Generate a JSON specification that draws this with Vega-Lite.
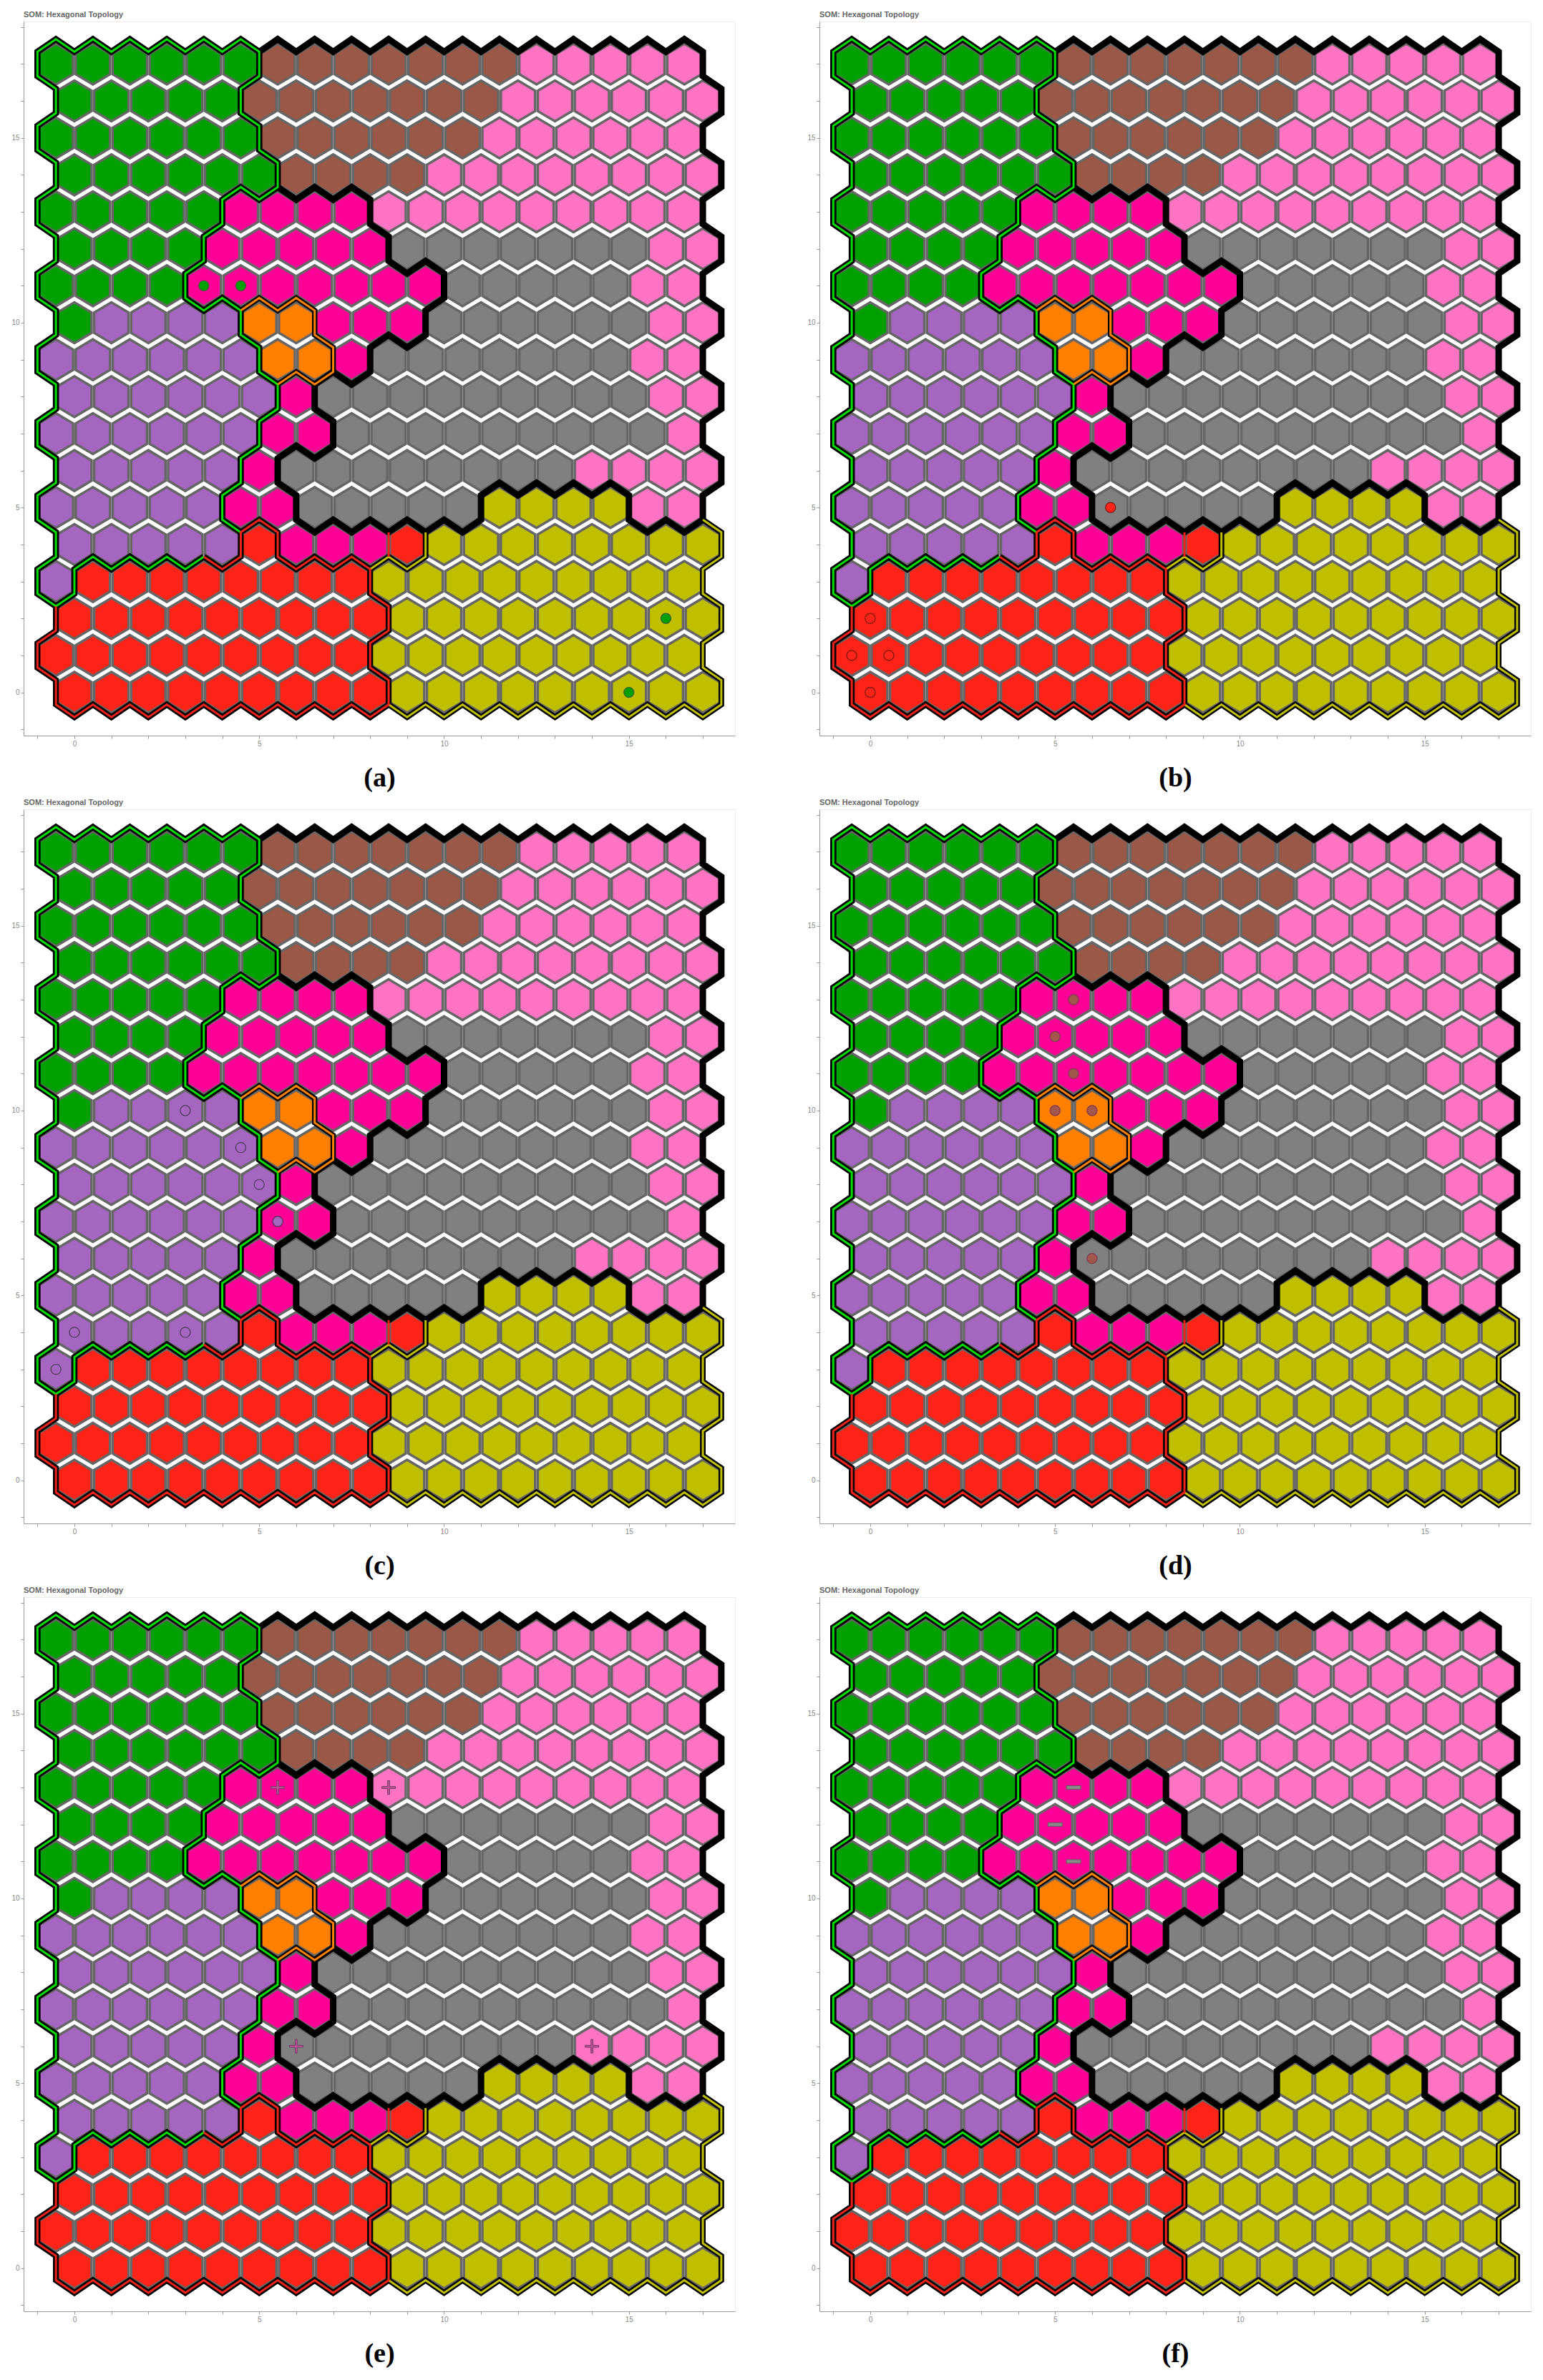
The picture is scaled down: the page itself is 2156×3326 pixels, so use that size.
{"$schema":"https://vega.github.io/schema/vega-lite/v6.json","background":"white","padding":{"left":15,"top":14,"right":0,"bottom":0},"bounds":"flush","columns":2,"spacing":{"row":103,"column":118},
"config":{"view":{"stroke":"#ececec"},"axis":{"grid":false,"domainColor":"#999999","tickColor":"#999999","labelColor":"#888888","labelFontSize":10,"labelFont":"Liberation Sans","tickSize":4,"titleFont":"Liberation Serif","titleFontSize":38,"titleFontWeight":"bold","titleColor":"#000000","titlePadding":24}},
"datasets":{
"cells":[
{"x":-0.5,"y":17,"c":"gn"},{"x":0.5,"y":17,"c":"gn"},{"x":1.5,"y":17,"c":"gn"},{"x":2.5,"y":17,"c":"gn"},{"x":3.5,"y":17,"c":"gn"},{"x":4.5,"y":17,"c":"gn"},{"x":5.5,"y":17,"c":"br"},{"x":6.5,"y":17,"c":"br"},{"x":7.5,"y":17,"c":"br"},{"x":8.5,"y":17,"c":"br"},{"x":9.5,"y":17,"c":"br"},{"x":10.5,"y":17,"c":"br"},{"x":11.5,"y":17,"c":"br"},{"x":12.5,"y":17,"c":"pk"},{"x":13.5,"y":17,"c":"pk"},{"x":14.5,"y":17,"c":"pk"},{"x":15.5,"y":17,"c":"pk"},{"x":16.5,"y":17,"c":"pk"},
{"x":0,"y":16,"c":"gn"},{"x":1,"y":16,"c":"gn"},{"x":2,"y":16,"c":"gn"},{"x":3,"y":16,"c":"gn"},{"x":4,"y":16,"c":"gn"},{"x":5,"y":16,"c":"br"},{"x":6,"y":16,"c":"br"},{"x":7,"y":16,"c":"br"},{"x":8,"y":16,"c":"br"},{"x":9,"y":16,"c":"br"},{"x":10,"y":16,"c":"br"},{"x":11,"y":16,"c":"br"},{"x":12,"y":16,"c":"pk"},{"x":13,"y":16,"c":"pk"},{"x":14,"y":16,"c":"pk"},{"x":15,"y":16,"c":"pk"},{"x":16,"y":16,"c":"pk"},{"x":17,"y":16,"c":"pk"},
{"x":-0.5,"y":15,"c":"gn"},{"x":0.5,"y":15,"c":"gn"},{"x":1.5,"y":15,"c":"gn"},{"x":2.5,"y":15,"c":"gn"},{"x":3.5,"y":15,"c":"gn"},{"x":4.5,"y":15,"c":"gn"},{"x":5.5,"y":15,"c":"br"},{"x":6.5,"y":15,"c":"br"},{"x":7.5,"y":15,"c":"br"},{"x":8.5,"y":15,"c":"br"},{"x":9.5,"y":15,"c":"br"},{"x":10.5,"y":15,"c":"br"},{"x":11.5,"y":15,"c":"pk"},{"x":12.5,"y":15,"c":"pk"},{"x":13.5,"y":15,"c":"pk"},{"x":14.5,"y":15,"c":"pk"},{"x":15.5,"y":15,"c":"pk"},{"x":16.5,"y":15,"c":"pk"},
{"x":0,"y":14,"c":"gn"},{"x":1,"y":14,"c":"gn"},{"x":2,"y":14,"c":"gn"},{"x":3,"y":14,"c":"gn"},{"x":4,"y":14,"c":"gn"},{"x":5,"y":14,"c":"gn"},{"x":6,"y":14,"c":"br"},{"x":7,"y":14,"c":"br"},{"x":8,"y":14,"c":"br"},{"x":9,"y":14,"c":"br"},{"x":10,"y":14,"c":"pk"},{"x":11,"y":14,"c":"pk"},{"x":12,"y":14,"c":"pk"},{"x":13,"y":14,"c":"pk"},{"x":14,"y":14,"c":"pk"},{"x":15,"y":14,"c":"pk"},{"x":16,"y":14,"c":"pk"},{"x":17,"y":14,"c":"pk"},
{"x":-0.5,"y":13,"c":"gn"},{"x":0.5,"y":13,"c":"gn"},{"x":1.5,"y":13,"c":"gn"},{"x":2.5,"y":13,"c":"gn"},{"x":3.5,"y":13,"c":"gn"},{"x":4.5,"y":13,"c":"mg"},{"x":5.5,"y":13,"c":"mg"},{"x":6.5,"y":13,"c":"mg"},{"x":7.5,"y":13,"c":"mg"},{"x":8.5,"y":13,"c":"pk"},{"x":9.5,"y":13,"c":"pk"},{"x":10.5,"y":13,"c":"pk"},{"x":11.5,"y":13,"c":"pk"},{"x":12.5,"y":13,"c":"pk"},{"x":13.5,"y":13,"c":"pk"},{"x":14.5,"y":13,"c":"pk"},{"x":15.5,"y":13,"c":"pk"},{"x":16.5,"y":13,"c":"pk"},
{"x":0,"y":12,"c":"gn"},{"x":1,"y":12,"c":"gn"},{"x":2,"y":12,"c":"gn"},{"x":3,"y":12,"c":"gn"},{"x":4,"y":12,"c":"mg"},{"x":5,"y":12,"c":"mg"},{"x":6,"y":12,"c":"mg"},{"x":7,"y":12,"c":"mg"},{"x":8,"y":12,"c":"mg"},{"x":9,"y":12,"c":"gy"},{"x":10,"y":12,"c":"gy"},{"x":11,"y":12,"c":"gy"},{"x":12,"y":12,"c":"gy"},{"x":13,"y":12,"c":"gy"},{"x":14,"y":12,"c":"gy"},{"x":15,"y":12,"c":"gy"},{"x":16,"y":12,"c":"pk"},{"x":17,"y":12,"c":"pk"},
{"x":-0.5,"y":11,"c":"gn"},{"x":0.5,"y":11,"c":"gn"},{"x":1.5,"y":11,"c":"gn"},{"x":2.5,"y":11,"c":"gn"},{"x":3.5,"y":11,"c":"mg"},{"x":4.5,"y":11,"c":"mg"},{"x":5.5,"y":11,"c":"mg"},{"x":6.5,"y":11,"c":"mg"},{"x":7.5,"y":11,"c":"mg"},{"x":8.5,"y":11,"c":"mg"},{"x":9.5,"y":11,"c":"mg"},{"x":10.5,"y":11,"c":"gy"},{"x":11.5,"y":11,"c":"gy"},{"x":12.5,"y":11,"c":"gy"},{"x":13.5,"y":11,"c":"gy"},{"x":14.5,"y":11,"c":"gy"},{"x":15.5,"y":11,"c":"pk"},{"x":16.5,"y":11,"c":"pk"},
{"x":0,"y":10,"c":"gn"},{"x":1,"y":10,"c":"pu"},{"x":2,"y":10,"c":"pu"},{"x":3,"y":10,"c":"pu"},{"x":4,"y":10,"c":"pu"},{"x":5,"y":10,"c":"or"},{"x":6,"y":10,"c":"or"},{"x":7,"y":10,"c":"mg"},{"x":8,"y":10,"c":"mg"},{"x":9,"y":10,"c":"mg"},{"x":10,"y":10,"c":"gy"},{"x":11,"y":10,"c":"gy"},{"x":12,"y":10,"c":"gy"},{"x":13,"y":10,"c":"gy"},{"x":14,"y":10,"c":"gy"},{"x":15,"y":10,"c":"gy"},{"x":16,"y":10,"c":"pk"},{"x":17,"y":10,"c":"pk"},
{"x":-0.5,"y":9,"c":"pu"},{"x":0.5,"y":9,"c":"pu"},{"x":1.5,"y":9,"c":"pu"},{"x":2.5,"y":9,"c":"pu"},{"x":3.5,"y":9,"c":"pu"},{"x":4.5,"y":9,"c":"pu"},{"x":5.5,"y":9,"c":"or"},{"x":6.5,"y":9,"c":"or"},{"x":7.5,"y":9,"c":"mg"},{"x":8.5,"y":9,"c":"gy"},{"x":9.5,"y":9,"c":"gy"},{"x":10.5,"y":9,"c":"gy"},{"x":11.5,"y":9,"c":"gy"},{"x":12.5,"y":9,"c":"gy"},{"x":13.5,"y":9,"c":"gy"},{"x":14.5,"y":9,"c":"gy"},{"x":15.5,"y":9,"c":"pk"},{"x":16.5,"y":9,"c":"pk"},
{"x":0,"y":8,"c":"pu"},{"x":1,"y":8,"c":"pu"},{"x":2,"y":8,"c":"pu"},{"x":3,"y":8,"c":"pu"},{"x":4,"y":8,"c":"pu"},{"x":5,"y":8,"c":"pu"},{"x":6,"y":8,"c":"mg"},{"x":7,"y":8,"c":"gy"},{"x":8,"y":8,"c":"gy"},{"x":9,"y":8,"c":"gy"},{"x":10,"y":8,"c":"gy"},{"x":11,"y":8,"c":"gy"},{"x":12,"y":8,"c":"gy"},{"x":13,"y":8,"c":"gy"},{"x":14,"y":8,"c":"gy"},{"x":15,"y":8,"c":"gy"},{"x":16,"y":8,"c":"pk"},{"x":17,"y":8,"c":"pk"},
{"x":-0.5,"y":7,"c":"pu"},{"x":0.5,"y":7,"c":"pu"},{"x":1.5,"y":7,"c":"pu"},{"x":2.5,"y":7,"c":"pu"},{"x":3.5,"y":7,"c":"pu"},{"x":4.5,"y":7,"c":"pu"},{"x":5.5,"y":7,"c":"mg"},{"x":6.5,"y":7,"c":"mg"},{"x":7.5,"y":7,"c":"gy"},{"x":8.5,"y":7,"c":"gy"},{"x":9.5,"y":7,"c":"gy"},{"x":10.5,"y":7,"c":"gy"},{"x":11.5,"y":7,"c":"gy"},{"x":12.5,"y":7,"c":"gy"},{"x":13.5,"y":7,"c":"gy"},{"x":14.5,"y":7,"c":"gy"},{"x":15.5,"y":7,"c":"gy"},{"x":16.5,"y":7,"c":"pk"},
{"x":0,"y":6,"c":"pu"},{"x":1,"y":6,"c":"pu"},{"x":2,"y":6,"c":"pu"},{"x":3,"y":6,"c":"pu"},{"x":4,"y":6,"c":"pu"},{"x":5,"y":6,"c":"mg"},{"x":6,"y":6,"c":"gy"},{"x":7,"y":6,"c":"gy"},{"x":8,"y":6,"c":"gy"},{"x":9,"y":6,"c":"gy"},{"x":10,"y":6,"c":"gy"},{"x":11,"y":6,"c":"gy"},{"x":12,"y":6,"c":"gy"},{"x":13,"y":6,"c":"gy"},{"x":14,"y":6,"c":"pk"},{"x":15,"y":6,"c":"pk"},{"x":16,"y":6,"c":"pk"},{"x":17,"y":6,"c":"pk"},
{"x":-0.5,"y":5,"c":"pu"},{"x":0.5,"y":5,"c":"pu"},{"x":1.5,"y":5,"c":"pu"},{"x":2.5,"y":5,"c":"pu"},{"x":3.5,"y":5,"c":"pu"},{"x":4.5,"y":5,"c":"mg"},{"x":5.5,"y":5,"c":"mg"},{"x":6.5,"y":5,"c":"gy"},{"x":7.5,"y":5,"c":"gy"},{"x":8.5,"y":5,"c":"gy"},{"x":9.5,"y":5,"c":"gy"},{"x":10.5,"y":5,"c":"gy"},{"x":11.5,"y":5,"c":"ol"},{"x":12.5,"y":5,"c":"ol"},{"x":13.5,"y":5,"c":"ol"},{"x":14.5,"y":5,"c":"ol"},{"x":15.5,"y":5,"c":"pk"},{"x":16.5,"y":5,"c":"pk"},
{"x":0,"y":4,"c":"pu"},{"x":1,"y":4,"c":"pu"},{"x":2,"y":4,"c":"pu"},{"x":3,"y":4,"c":"pu"},{"x":4,"y":4,"c":"pu"},{"x":5,"y":4,"c":"rd"},{"x":6,"y":4,"c":"mg"},{"x":7,"y":4,"c":"mg"},{"x":8,"y":4,"c":"mg"},{"x":9,"y":4,"c":"rd"},{"x":10,"y":4,"c":"ol"},{"x":11,"y":4,"c":"ol"},{"x":12,"y":4,"c":"ol"},{"x":13,"y":4,"c":"ol"},{"x":14,"y":4,"c":"ol"},{"x":15,"y":4,"c":"ol"},{"x":16,"y":4,"c":"ol"},{"x":17,"y":4,"c":"ol"},
{"x":-0.5,"y":3,"c":"pu"},{"x":0.5,"y":3,"c":"rd"},{"x":1.5,"y":3,"c":"rd"},{"x":2.5,"y":3,"c":"rd"},{"x":3.5,"y":3,"c":"rd"},{"x":4.5,"y":3,"c":"rd"},{"x":5.5,"y":3,"c":"rd"},{"x":6.5,"y":3,"c":"rd"},{"x":7.5,"y":3,"c":"rd"},{"x":8.5,"y":3,"c":"ol"},{"x":9.5,"y":3,"c":"ol"},{"x":10.5,"y":3,"c":"ol"},{"x":11.5,"y":3,"c":"ol"},{"x":12.5,"y":3,"c":"ol"},{"x":13.5,"y":3,"c":"ol"},{"x":14.5,"y":3,"c":"ol"},{"x":15.5,"y":3,"c":"ol"},{"x":16.5,"y":3,"c":"ol"},
{"x":0,"y":2,"c":"rd"},{"x":1,"y":2,"c":"rd"},{"x":2,"y":2,"c":"rd"},{"x":3,"y":2,"c":"rd"},{"x":4,"y":2,"c":"rd"},{"x":5,"y":2,"c":"rd"},{"x":6,"y":2,"c":"rd"},{"x":7,"y":2,"c":"rd"},{"x":8,"y":2,"c":"rd"},{"x":9,"y":2,"c":"ol"},{"x":10,"y":2,"c":"ol"},{"x":11,"y":2,"c":"ol"},{"x":12,"y":2,"c":"ol"},{"x":13,"y":2,"c":"ol"},{"x":14,"y":2,"c":"ol"},{"x":15,"y":2,"c":"ol"},{"x":16,"y":2,"c":"ol"},{"x":17,"y":2,"c":"ol"},
{"x":-0.5,"y":1,"c":"rd"},{"x":0.5,"y":1,"c":"rd"},{"x":1.5,"y":1,"c":"rd"},{"x":2.5,"y":1,"c":"rd"},{"x":3.5,"y":1,"c":"rd"},{"x":4.5,"y":1,"c":"rd"},{"x":5.5,"y":1,"c":"rd"},{"x":6.5,"y":1,"c":"rd"},{"x":7.5,"y":1,"c":"rd"},{"x":8.5,"y":1,"c":"ol"},{"x":9.5,"y":1,"c":"ol"},{"x":10.5,"y":1,"c":"ol"},{"x":11.5,"y":1,"c":"ol"},{"x":12.5,"y":1,"c":"ol"},{"x":13.5,"y":1,"c":"ol"},{"x":14.5,"y":1,"c":"ol"},{"x":15.5,"y":1,"c":"ol"},{"x":16.5,"y":1,"c":"ol"},
{"x":0,"y":0,"c":"rd"},{"x":1,"y":0,"c":"rd"},{"x":2,"y":0,"c":"rd"},{"x":3,"y":0,"c":"rd"},{"x":4,"y":0,"c":"rd"},{"x":5,"y":0,"c":"rd"},{"x":6,"y":0,"c":"rd"},{"x":7,"y":0,"c":"rd"},{"x":8,"y":0,"c":"rd"},{"x":9,"y":0,"c":"ol"},{"x":10,"y":0,"c":"ol"},{"x":11,"y":0,"c":"ol"},{"x":12,"y":0,"c":"ol"},{"x":13,"y":0,"c":"ol"},{"x":14,"y":0,"c":"ol"},{"x":15,"y":0,"c":"ol"},{"x":16,"y":0,"c":"ol"},{"x":17,"y":0,"c":"ol"}
],
"lines":[
{"p":"g","c":"g","o":1,"x":4.5,"y":4.33},{"p":"g","c":"g","o":2,"x":4,"y":4.67},{"p":"g","c":"g","o":3,"x":4,"y":5.33},{"p":"g","c":"g","o":4,"x":4.5,"y":5.67},{"p":"g","c":"g","o":5,"x":4.5,"y":6.33},{"p":"g","c":"g","o":6,"x":5,"y":6.67},{"p":"g","c":"g","o":7,"x":5,"y":7.33},{"p":"g","c":"g","o":8,"x":5.5,"y":7.67},{"p":"g","c":"g","o":9,"x":5.5,"y":8.33},{"p":"g","c":"g","o":10,"x":5,"y":8.67},{"p":"g","c":"g","o":11,"x":5,"y":9.33},{"p":"g","c":"g","o":12,"x":4.5,"y":9.67},{"p":"g","c":"g","o":13,"x":4.5,"y":10.33},{"p":"g","c":"g","o":14,"x":4,"y":10.67},{"p":"g","c":"g","o":15,"x":3.5,"y":10.33},{"p":"g","c":"g","o":16,"x":3,"y":10.67},{"p":"g","c":"g","o":17,"x":3,"y":11.33},{"p":"g","c":"g","o":18,"x":3.5,"y":11.67},{"p":"g","c":"g","o":19,"x":3.5,"y":12.33},{"p":"g","c":"g","o":20,"x":4,"y":12.67},{"p":"g","c":"g","o":21,"x":4,"y":13.33},{"p":"g","c":"g","o":22,"x":4.5,"y":13.67},{"p":"g","c":"g","o":23,"x":5,"y":13.33},{"p":"g","c":"g","o":24,"x":5.5,"y":13.67},{"p":"g","c":"g","o":25,"x":5.5,"y":14.33},{"p":"g","c":"g","o":26,"x":5,"y":14.67},{"p":"g","c":"g","o":27,"x":5,"y":15.33},{"p":"g","c":"g","o":28,"x":4.5,"y":15.67},{"p":"g","c":"g","o":29,"x":4.5,"y":16.33},{"p":"g","c":"g","o":30,"x":5,"y":16.67},{"p":"g","c":"g","o":31,"x":5,"y":17.33},{"p":"g","c":"g","o":32,"x":4.5,"y":17.67},{"p":"g","c":"g","o":33,"x":4,"y":17.33},{"p":"g","c":"g","o":34,"x":3.5,"y":17.67},{"p":"g","c":"g","o":35,"x":3,"y":17.33},{"p":"g","c":"g","o":36,"x":2.5,"y":17.67},{"p":"g","c":"g","o":37,"x":2,"y":17.33},{"p":"g","c":"g","o":38,"x":1.5,"y":17.67},{"p":"g","c":"g","o":39,"x":1,"y":17.33},{"p":"g","c":"g","o":40,"x":0.5,"y":17.67},{"p":"g","c":"g","o":41,"x":0,"y":17.33},{"p":"g","c":"g","o":42,"x":-0.5,"y":17.67},{"p":"g","c":"g","o":43,"x":-1,"y":17.33},{"p":"g","c":"g","o":44,"x":-1,"y":16.67},{"p":"g","c":"g","o":45,"x":-0.5,"y":16.33},{"p":"g","c":"g","o":46,"x":-0.5,"y":15.67},{"p":"g","c":"g","o":47,"x":-1,"y":15.33},{"p":"g","c":"g","o":48,"x":-1,"y":14.67},{"p":"g","c":"g","o":49,"x":-0.5,"y":14.33},{"p":"g","c":"g","o":50,"x":-0.5,"y":13.67},{"p":"g","c":"g","o":51,"x":-1,"y":13.33},{"p":"g","c":"g","o":52,"x":-1,"y":12.67},{"p":"g","c":"g","o":53,"x":-0.5,"y":12.33},{"p":"g","c":"g","o":54,"x":-0.5,"y":11.67},{"p":"g","c":"g","o":55,"x":-1,"y":11.33},{"p":"g","c":"g","o":56,"x":-1,"y":10.67},{"p":"g","c":"g","o":57,"x":-0.5,"y":10.33},{"p":"g","c":"g","o":58,"x":-0.5,"y":9.67},{"p":"g","c":"g","o":59,"x":-1,"y":9.33},{"p":"g","c":"g","o":60,"x":-1,"y":8.67},{"p":"g","c":"g","o":61,"x":-0.5,"y":8.33},{"p":"g","c":"g","o":62,"x":-0.5,"y":7.67},{"p":"g","c":"g","o":63,"x":-1,"y":7.33},{"p":"g","c":"g","o":64,"x":-1,"y":6.67},{"p":"g","c":"g","o":65,"x":-0.5,"y":6.33},{"p":"g","c":"g","o":66,"x":-0.5,"y":5.67},{"p":"g","c":"g","o":67,"x":-1,"y":5.33},{"p":"g","c":"g","o":68,"x":-1,"y":4.67},{"p":"g","c":"g","o":69,"x":-0.5,"y":4.33},{"p":"g","c":"g","o":70,"x":-0.5,"y":3.67},{"p":"g","c":"g","o":71,"x":-1,"y":3.33},{"p":"g","c":"g","o":72,"x":-1,"y":2.67},{"p":"g","c":"g","o":73,"x":-0.5,"y":2.33},{"p":"g","c":"g","o":74,"x":0,"y":2.67},{"p":"g","c":"g","o":75,"x":0,"y":3.33},{"p":"g","c":"g","o":76,"x":0.5,"y":3.67},{"p":"g","c":"g","o":77,"x":1,"y":3.33},{"p":"g","c":"g","o":78,"x":1.5,"y":3.67},{"p":"g","c":"g","o":79,"x":2,"y":3.33},{"p":"g","c":"g","o":80,"x":2.5,"y":3.67},{"p":"g","c":"g","o":81,"x":3,"y":3.33},{"p":"g","c":"g","o":82,"x":3.5,"y":3.67},
{"p":"k","c":"k","o":1,"x":5,"y":17.33},{"p":"k","c":"k","o":2,"x":5.5,"y":17.67},{"p":"k","c":"k","o":3,"x":6,"y":17.33},{"p":"k","c":"k","o":4,"x":6.5,"y":17.67},{"p":"k","c":"k","o":5,"x":7,"y":17.33},{"p":"k","c":"k","o":6,"x":7.5,"y":17.67},{"p":"k","c":"k","o":7,"x":8,"y":17.33},{"p":"k","c":"k","o":8,"x":8.5,"y":17.67},{"p":"k","c":"k","o":9,"x":9,"y":17.33},{"p":"k","c":"k","o":10,"x":9.5,"y":17.67},{"p":"k","c":"k","o":11,"x":10,"y":17.33},{"p":"k","c":"k","o":12,"x":10.5,"y":17.67},{"p":"k","c":"k","o":13,"x":11,"y":17.33},{"p":"k","c":"k","o":14,"x":11.5,"y":17.67},{"p":"k","c":"k","o":15,"x":12,"y":17.33},{"p":"k","c":"k","o":16,"x":12.5,"y":17.67},{"p":"k","c":"k","o":17,"x":13,"y":17.33},{"p":"k","c":"k","o":18,"x":13.5,"y":17.67},{"p":"k","c":"k","o":19,"x":14,"y":17.33},{"p":"k","c":"k","o":20,"x":14.5,"y":17.67},{"p":"k","c":"k","o":21,"x":15,"y":17.33},{"p":"k","c":"k","o":22,"x":15.5,"y":17.67},{"p":"k","c":"k","o":23,"x":16,"y":17.33},{"p":"k","c":"k","o":24,"x":16.5,"y":17.67},{"p":"k","c":"k","o":25,"x":17,"y":17.33},{"p":"k","c":"k","o":26,"x":17,"y":16.67},{"p":"k","c":"k","o":27,"x":17.5,"y":16.33},{"p":"k","c":"k","o":28,"x":17.5,"y":15.67},{"p":"k","c":"k","o":29,"x":17,"y":15.33},{"p":"k","c":"k","o":30,"x":17,"y":14.67},{"p":"k","c":"k","o":31,"x":17.5,"y":14.33},{"p":"k","c":"k","o":32,"x":17.5,"y":13.67},{"p":"k","c":"k","o":33,"x":17,"y":13.33},{"p":"k","c":"k","o":34,"x":17,"y":12.67},{"p":"k","c":"k","o":35,"x":17.5,"y":12.33},{"p":"k","c":"k","o":36,"x":17.5,"y":11.67},{"p":"k","c":"k","o":37,"x":17,"y":11.33},{"p":"k","c":"k","o":38,"x":17,"y":10.67},{"p":"k","c":"k","o":39,"x":17.5,"y":10.33},{"p":"k","c":"k","o":40,"x":17.5,"y":9.67},{"p":"k","c":"k","o":41,"x":17,"y":9.33},{"p":"k","c":"k","o":42,"x":17,"y":8.67},{"p":"k","c":"k","o":43,"x":17.5,"y":8.33},{"p":"k","c":"k","o":44,"x":17.5,"y":7.67},{"p":"k","c":"k","o":45,"x":17,"y":7.33},{"p":"k","c":"k","o":46,"x":17,"y":6.67},{"p":"k","c":"k","o":47,"x":17.5,"y":6.33},{"p":"k","c":"k","o":48,"x":17.5,"y":5.67},{"p":"k","c":"k","o":49,"x":17,"y":5.33},{"p":"k","c":"k","o":50,"x":17,"y":4.67},{"p":"k","c":"k","o":51,"x":16.5,"y":4.33},{"p":"k","c":"k","o":52,"x":16,"y":4.67},{"p":"k","c":"k","o":53,"x":15.5,"y":4.33},{"p":"k","c":"k","o":54,"x":15,"y":4.67},{"p":"k","c":"k","o":55,"x":15,"y":5.33},{"p":"k","c":"k","o":56,"x":14.5,"y":5.67},{"p":"k","c":"k","o":57,"x":14,"y":5.33},{"p":"k","c":"k","o":58,"x":13.5,"y":5.67},{"p":"k","c":"k","o":59,"x":13,"y":5.33},{"p":"k","c":"k","o":60,"x":12.5,"y":5.67},{"p":"k","c":"k","o":61,"x":12,"y":5.33},{"p":"k","c":"k","o":62,"x":11.5,"y":5.67},{"p":"k","c":"k","o":63,"x":11,"y":5.33},{"p":"k","c":"k","o":64,"x":11,"y":4.67},{"p":"k","c":"k","o":65,"x":10.5,"y":4.33},{"p":"k","c":"k","o":66,"x":10,"y":4.67},{"p":"k","c":"k","o":67,"x":9.5,"y":4.33},{"p":"k","c":"k","o":68,"x":9,"y":4.67},{"p":"k","c":"k","o":69,"x":8.5,"y":4.33},{"p":"k","c":"k","o":70,"x":8,"y":4.67},{"p":"k","c":"k","o":71,"x":7.5,"y":4.33},{"p":"k","c":"k","o":72,"x":7,"y":4.67},{"p":"k","c":"k","o":73,"x":6.5,"y":4.33},{"p":"k","c":"k","o":74,"x":6,"y":4.67},{"p":"k","c":"k","o":75,"x":6,"y":5.33},{"p":"k","c":"k","o":76,"x":5.5,"y":5.67},{"p":"k","c":"k","o":77,"x":5.5,"y":6.33},{"p":"k","c":"k","o":78,"x":6,"y":6.67},{"p":"k","c":"k","o":79,"x":6.5,"y":6.33},{"p":"k","c":"k","o":80,"x":7,"y":6.67},{"p":"k","c":"k","o":81,"x":7,"y":7.33},{"p":"k","c":"k","o":82,"x":6.5,"y":7.67},{"p":"k","c":"k","o":83,"x":6.5,"y":8.33},{"p":"k","c":"k","o":84,"x":7,"y":8.67},{"p":"k","c":"k","o":85,"x":7.5,"y":8.33},{"p":"k","c":"k","o":86,"x":8,"y":8.67},{"p":"k","c":"k","o":87,"x":8,"y":9.33},{"p":"k","c":"k","o":88,"x":8.5,"y":9.67},{"p":"k","c":"k","o":89,"x":9,"y":9.33},{"p":"k","c":"k","o":90,"x":9.5,"y":9.67},{"p":"k","c":"k","o":91,"x":9.5,"y":10.33},{"p":"k","c":"k","o":92,"x":10,"y":10.67},{"p":"k","c":"k","o":93,"x":10,"y":11.33},{"p":"k","c":"k","o":94,"x":9.5,"y":11.67},{"p":"k","c":"k","o":95,"x":9,"y":11.33},{"p":"k","c":"k","o":96,"x":8.5,"y":11.67},{"p":"k","c":"k","o":97,"x":8.5,"y":12.33},{"p":"k","c":"k","o":98,"x":8,"y":12.67},{"p":"k","c":"k","o":99,"x":8,"y":13.33},{"p":"k","c":"k","o":100,"x":7.5,"y":13.67},{"p":"k","c":"k","o":101,"x":7,"y":13.33},{"p":"k","c":"k","o":102,"x":6.5,"y":13.67},{"p":"k","c":"k","o":103,"x":6,"y":13.33},{"p":"k","c":"k","o":104,"x":5.5,"y":13.67},
{"p":"y1","c":"y","o":1,"x":17,"y":4.67},{"p":"y1","c":"y","o":2,"x":17.5,"y":4.33},{"p":"y1","c":"y","o":3,"x":17.5,"y":3.67},{"p":"y1","c":"y","o":4,"x":17,"y":3.33},{"p":"y1","c":"y","o":5,"x":17,"y":2.67},{"p":"y1","c":"y","o":6,"x":17.5,"y":2.33},{"p":"y1","c":"y","o":7,"x":17.5,"y":1.67},{"p":"y1","c":"y","o":8,"x":17,"y":1.33},{"p":"y1","c":"y","o":9,"x":17,"y":0.67},{"p":"y1","c":"y","o":10,"x":17.5,"y":0.33},{"p":"y1","c":"y","o":11,"x":17.5,"y":-0.33},{"p":"y1","c":"y","o":12,"x":17,"y":-0.67},{"p":"y1","c":"y","o":13,"x":16.5,"y":-0.33},{"p":"y1","c":"y","o":14,"x":16,"y":-0.67},{"p":"y1","c":"y","o":15,"x":15.5,"y":-0.33},{"p":"y1","c":"y","o":16,"x":15,"y":-0.67},{"p":"y1","c":"y","o":17,"x":14.5,"y":-0.33},{"p":"y1","c":"y","o":18,"x":14,"y":-0.67},{"p":"y1","c":"y","o":19,"x":13.5,"y":-0.33},{"p":"y1","c":"y","o":20,"x":13,"y":-0.67},{"p":"y1","c":"y","o":21,"x":12.5,"y":-0.33},{"p":"y1","c":"y","o":22,"x":12,"y":-0.67},{"p":"y1","c":"y","o":23,"x":11.5,"y":-0.33},{"p":"y1","c":"y","o":24,"x":11,"y":-0.67},{"p":"y1","c":"y","o":25,"x":10.5,"y":-0.33},{"p":"y1","c":"y","o":26,"x":10,"y":-0.67},{"p":"y1","c":"y","o":27,"x":9.5,"y":-0.33},{"p":"y1","c":"y","o":28,"x":9,"y":-0.67},{"p":"y1","c":"y","o":29,"x":8.5,"y":-0.33},
{"p":"y2","c":"y","o":1,"x":8,"y":3.33},{"p":"y2","c":"y","o":2,"x":8.5,"y":3.67},{"p":"y2","c":"y","o":3,"x":9,"y":3.33},{"p":"y2","c":"y","o":4,"x":9.5,"y":3.67},{"p":"y2","c":"y","o":5,"x":9.5,"y":4.33},
{"p":"r1","c":"r","o":1,"x":-0.5,"y":2.33},{"p":"r1","c":"r","o":2,"x":-0.5,"y":1.67},{"p":"r1","c":"r","o":3,"x":-1,"y":1.33},{"p":"r1","c":"r","o":4,"x":-1,"y":0.67},{"p":"r1","c":"r","o":5,"x":-0.5,"y":0.33},{"p":"r1","c":"r","o":6,"x":-0.5,"y":-0.33},{"p":"r1","c":"r","o":7,"x":0,"y":-0.67},{"p":"r1","c":"r","o":8,"x":0.5,"y":-0.33},{"p":"r1","c":"r","o":9,"x":1,"y":-0.67},{"p":"r1","c":"r","o":10,"x":1.5,"y":-0.33},{"p":"r1","c":"r","o":11,"x":2,"y":-0.67},{"p":"r1","c":"r","o":12,"x":2.5,"y":-0.33},{"p":"r1","c":"r","o":13,"x":3,"y":-0.67},{"p":"r1","c":"r","o":14,"x":3.5,"y":-0.33},{"p":"r1","c":"r","o":15,"x":4,"y":-0.67},{"p":"r1","c":"r","o":16,"x":4.5,"y":-0.33},{"p":"r1","c":"r","o":17,"x":5,"y":-0.67},{"p":"r1","c":"r","o":18,"x":5.5,"y":-0.33},{"p":"r1","c":"r","o":19,"x":6,"y":-0.67},{"p":"r1","c":"r","o":20,"x":6.5,"y":-0.33},{"p":"r1","c":"r","o":21,"x":7,"y":-0.67},{"p":"r1","c":"r","o":22,"x":7.5,"y":-0.33},{"p":"r1","c":"r","o":23,"x":8,"y":-0.67},{"p":"r1","c":"r","o":24,"x":8.5,"y":-0.33},{"p":"r1","c":"r","o":25,"x":8.5,"y":0.33},{"p":"r1","c":"r","o":26,"x":8,"y":0.67},{"p":"r1","c":"r","o":27,"x":8,"y":1.33},{"p":"r1","c":"r","o":28,"x":8.5,"y":1.67},{"p":"r1","c":"r","o":29,"x":8.5,"y":2.33},{"p":"r1","c":"r","o":30,"x":8,"y":2.67},{"p":"r1","c":"r","o":31,"x":8,"y":3.33},{"p":"r1","c":"r","o":32,"x":7.5,"y":3.67},{"p":"r1","c":"r","o":33,"x":7,"y":3.33},{"p":"r1","c":"r","o":34,"x":6.5,"y":3.67},{"p":"r1","c":"r","o":35,"x":6,"y":3.33},{"p":"r1","c":"r","o":36,"x":5.5,"y":3.67},{"p":"r1","c":"r","o":37,"x":5.5,"y":4.33},{"p":"r1","c":"r","o":38,"x":5,"y":4.67},{"p":"r1","c":"r","o":39,"x":4.5,"y":4.33},{"p":"r1","c":"r","o":40,"x":4.5,"y":3.67},{"p":"r1","c":"r","o":41,"x":4,"y":3.33},{"p":"r1","c":"r","o":42,"x":3.5,"y":3.67},
{"p":"r2","c":"t","o":1,"x":8.5,"y":3.67},{"p":"r2","c":"t","o":2,"x":8.5,"y":4.33},
{"p":"o","c":"o","o":1,"x":4.5,"y":10.33},{"p":"o","c":"o","o":2,"x":5,"y":10.67},{"p":"o","c":"o","o":3,"x":5.5,"y":10.33},{"p":"o","c":"o","o":4,"x":6,"y":10.67},{"p":"o","c":"o","o":5,"x":6.5,"y":10.33},{"p":"o","c":"o","o":6,"x":6.5,"y":9.67},{"p":"o","c":"o","o":7,"x":7,"y":9.33},{"p":"o","c":"o","o":8,"x":7,"y":8.67},{"p":"o","c":"o","o":9,"x":6.5,"y":8.33},{"p":"o","c":"o","o":10,"x":6,"y":8.67},{"p":"o","c":"o","o":11,"x":5.5,"y":8.33}
],
"markers":[
{"panel":"a","x":3.5,"y":11},{"panel":"a","x":4.5,"y":11},{"panel":"a","x":16,"y":2},{"panel":"a","x":15,"y":0},
{"panel":"b","x":6.5,"y":5},{"panel":"b","x":0,"y":2},{"panel":"b","x":-0.5,"y":1},{"panel":"b","x":0.5,"y":1},{"panel":"b","x":0,"y":0},
{"panel":"c","x":3,"y":10},{"panel":"c","x":4.5,"y":9},{"panel":"c","x":5,"y":8},{"panel":"c","x":5.5,"y":7},{"panel":"c","x":0,"y":4},{"panel":"c","x":3,"y":4},{"panel":"c","x":-0.5,"y":3},
{"panel":"d","x":5.5,"y":13},{"panel":"d","x":5,"y":12},{"panel":"d","x":5.5,"y":11},{"panel":"d","x":5,"y":10},{"panel":"d","x":6,"y":10},{"panel":"d","x":6,"y":6},
{"panel":"e","x":5.5,"y":13},{"panel":"e","x":8.5,"y":13},{"panel":"e","x":6,"y":6},{"panel":"e","x":14,"y":6},
{"panel":"f","x":5.5,"y":13},{"panel":"f","x":5,"y":12},{"panel":"f","x":5.5,"y":11}
]},
"concat":[
{"title":{"text":"SOM: Hexagonal Topology","anchor":"start","frame":"group","fontSize":11,"font":"Liberation Sans","fontWeight":"bold","color":"#666666","offset":4},"width":994,"height":998,
"encoding":{"x":{"field":"x","type":"quantitative","scale":{"domain":[-1.374,17.87],"nice":false,"zero":false},"axis":{"title":"(a)","values":[-1,0,1,2,3,4,5,6,7,8,9,10,11,12,13,14,15,16,17],"labelExpr":"datum.value % 5 === 0 ? datum.label : ''"}},"y":{"field":"y","type":"quantitative","scale":{"domain":[-1.17,18.15],"nice":false,"zero":false},"axis":{"title":null,"values":[-1,0,1,2,3,4,5,6,7,8,9,10,11,12,13,14,15,16,17,18],"labelExpr":"datum.value % 5 === 0 ? datum.label : ''"}}},
"layer":[
{"data":{"name":"cells"},"mark":{"type":"point","shape":"M0,-1L0.842,-0.5L0.842,0.5L0,1L-0.842,0.5L-0.842,-0.5Z","filled":true,"opacity":1,"stroke":"#666666","strokeWidth":3.5,"size":3249},"encoding":{"fill":{"field":"c","type":"nominal","legend":null,"scale":{"domain":["gn","br","pk","mg","gy","pu","or","rd","ol"],"range":["#00a000","#9c5846","#ff73c3","#ff0096","#808080","#a566c2","#ff8000","#ff2318","#bfbf00"]}}}},
{"data":{"name":"lines"},"transform":[{"filter":"datum.c !== 't'"}],"mark":{"type":"line","color":"#000000"},"encoding":{"detail":{"field":"p"},"order":{"field":"o","type":"quantitative"},"strokeWidth":{"field":"c","type":"nominal","legend":null,"scale":{"domain":["k","g","r","y","o"],"range":[9,7.5,7,8,5]}}}},
{"data":{"name":"lines"},"transform":[{"filter":"datum.c !== 'k'"}],"mark":{"type":"line","strokeWidth":3},"encoding":{"detail":{"field":"p"},"order":{"field":"o","type":"quantitative"},"stroke":{"field":"c","type":"nominal","legend":null,"scale":{"domain":["g","r","t","y","o"],"range":["#00dd00","#f0201a","#f0201a","#bfbf00","#ff8000"]}}}},
{"data":{"name":"markers"},"transform":[{"filter":"datum.panel === 'a'"}],"mark":{"type":"point","shape":"circle","filled":true,"opacity":1,"fill":"#00a000","stroke":"#3d5a3d","strokeWidth":1.2,"size":200}}
]},
{"title":{"text":"SOM: Hexagonal Topology","anchor":"start","frame":"group","fontSize":11,"font":"Liberation Sans","fontWeight":"bold","color":"#666666","offset":4},"width":994,"height":998,
"encoding":{"x":{"field":"x","type":"quantitative","scale":{"domain":[-1.374,17.87],"nice":false,"zero":false},"axis":{"title":"(b)","values":[-1,0,1,2,3,4,5,6,7,8,9,10,11,12,13,14,15,16,17],"labelExpr":"datum.value % 5 === 0 ? datum.label : ''"}},"y":{"field":"y","type":"quantitative","scale":{"domain":[-1.17,18.15],"nice":false,"zero":false},"axis":{"title":null,"values":[-1,0,1,2,3,4,5,6,7,8,9,10,11,12,13,14,15,16,17,18],"labelExpr":"datum.value % 5 === 0 ? datum.label : ''"}}},
"layer":[
{"data":{"name":"cells"},"mark":{"type":"point","shape":"M0,-1L0.842,-0.5L0.842,0.5L0,1L-0.842,0.5L-0.842,-0.5Z","filled":true,"opacity":1,"stroke":"#666666","strokeWidth":3.5,"size":3249},"encoding":{"fill":{"field":"c","type":"nominal","legend":null,"scale":{"domain":["gn","br","pk","mg","gy","pu","or","rd","ol"],"range":["#00a000","#9c5846","#ff73c3","#ff0096","#808080","#a566c2","#ff8000","#ff2318","#bfbf00"]}}}},
{"data":{"name":"lines"},"transform":[{"filter":"datum.c !== 't'"}],"mark":{"type":"line","color":"#000000"},"encoding":{"detail":{"field":"p"},"order":{"field":"o","type":"quantitative"},"strokeWidth":{"field":"c","type":"nominal","legend":null,"scale":{"domain":["k","g","r","y","o"],"range":[9,7.5,7,8,5]}}}},
{"data":{"name":"lines"},"transform":[{"filter":"datum.c !== 'k'"}],"mark":{"type":"line","strokeWidth":3},"encoding":{"detail":{"field":"p"},"order":{"field":"o","type":"quantitative"},"stroke":{"field":"c","type":"nominal","legend":null,"scale":{"domain":["g","r","t","y","o"],"range":["#00dd00","#f0201a","#f0201a","#bfbf00","#ff8000"]}}}},
{"data":{"name":"markers"},"transform":[{"filter":"datum.panel === 'b'"}],"mark":{"type":"point","shape":"circle","filled":true,"opacity":1,"fill":"#ff2318","stroke":"#7a1a15","strokeWidth":1.3,"size":200}}
]},
{"title":{"text":"SOM: Hexagonal Topology","anchor":"start","frame":"group","fontSize":11,"font":"Liberation Sans","fontWeight":"bold","color":"#666666","offset":4},"width":994,"height":998,
"encoding":{"x":{"field":"x","type":"quantitative","scale":{"domain":[-1.374,17.87],"nice":false,"zero":false},"axis":{"title":"(c)","values":[-1,0,1,2,3,4,5,6,7,8,9,10,11,12,13,14,15,16,17],"labelExpr":"datum.value % 5 === 0 ? datum.label : ''"}},"y":{"field":"y","type":"quantitative","scale":{"domain":[-1.17,18.15],"nice":false,"zero":false},"axis":{"title":null,"values":[-1,0,1,2,3,4,5,6,7,8,9,10,11,12,13,14,15,16,17,18],"labelExpr":"datum.value % 5 === 0 ? datum.label : ''"}}},
"layer":[
{"data":{"name":"cells"},"mark":{"type":"point","shape":"M0,-1L0.842,-0.5L0.842,0.5L0,1L-0.842,0.5L-0.842,-0.5Z","filled":true,"opacity":1,"stroke":"#666666","strokeWidth":3.5,"size":3249},"encoding":{"fill":{"field":"c","type":"nominal","legend":null,"scale":{"domain":["gn","br","pk","mg","gy","pu","or","rd","ol"],"range":["#00a000","#9c5846","#ff73c3","#ff0096","#808080","#a566c2","#ff8000","#ff2318","#bfbf00"]}}}},
{"data":{"name":"lines"},"transform":[{"filter":"datum.c !== 't'"}],"mark":{"type":"line","color":"#000000"},"encoding":{"detail":{"field":"p"},"order":{"field":"o","type":"quantitative"},"strokeWidth":{"field":"c","type":"nominal","legend":null,"scale":{"domain":["k","g","r","y","o"],"range":[9,7.5,7,8,5]}}}},
{"data":{"name":"lines"},"transform":[{"filter":"datum.c !== 'k'"}],"mark":{"type":"line","strokeWidth":3},"encoding":{"detail":{"field":"p"},"order":{"field":"o","type":"quantitative"},"stroke":{"field":"c","type":"nominal","legend":null,"scale":{"domain":["g","r","t","y","o"],"range":["#00dd00","#f0201a","#f0201a","#bfbf00","#ff8000"]}}}},
{"data":{"name":"markers"},"transform":[{"filter":"datum.panel === 'c'"}],"mark":{"type":"point","shape":"circle","filled":true,"opacity":1,"fill":"#a566c2","stroke":"#4a3a55","strokeWidth":1.2,"size":200}}
]},
{"title":{"text":"SOM: Hexagonal Topology","anchor":"start","frame":"group","fontSize":11,"font":"Liberation Sans","fontWeight":"bold","color":"#666666","offset":4},"width":994,"height":998,
"encoding":{"x":{"field":"x","type":"quantitative","scale":{"domain":[-1.374,17.87],"nice":false,"zero":false},"axis":{"title":"(d)","values":[-1,0,1,2,3,4,5,6,7,8,9,10,11,12,13,14,15,16,17],"labelExpr":"datum.value % 5 === 0 ? datum.label : ''"}},"y":{"field":"y","type":"quantitative","scale":{"domain":[-1.17,18.15],"nice":false,"zero":false},"axis":{"title":null,"values":[-1,0,1,2,3,4,5,6,7,8,9,10,11,12,13,14,15,16,17,18],"labelExpr":"datum.value % 5 === 0 ? datum.label : ''"}}},
"layer":[
{"data":{"name":"cells"},"mark":{"type":"point","shape":"M0,-1L0.842,-0.5L0.842,0.5L0,1L-0.842,0.5L-0.842,-0.5Z","filled":true,"opacity":1,"stroke":"#666666","strokeWidth":3.5,"size":3249},"encoding":{"fill":{"field":"c","type":"nominal","legend":null,"scale":{"domain":["gn","br","pk","mg","gy","pu","or","rd","ol"],"range":["#00a000","#9c5846","#ff73c3","#ff0096","#808080","#a566c2","#ff8000","#ff2318","#bfbf00"]}}}},
{"data":{"name":"lines"},"transform":[{"filter":"datum.c !== 't'"}],"mark":{"type":"line","color":"#000000"},"encoding":{"detail":{"field":"p"},"order":{"field":"o","type":"quantitative"},"strokeWidth":{"field":"c","type":"nominal","legend":null,"scale":{"domain":["k","g","r","y","o"],"range":[9,7.5,7,8,5]}}}},
{"data":{"name":"lines"},"transform":[{"filter":"datum.c !== 'k'"}],"mark":{"type":"line","strokeWidth":3},"encoding":{"detail":{"field":"p"},"order":{"field":"o","type":"quantitative"},"stroke":{"field":"c","type":"nominal","legend":null,"scale":{"domain":["g","r","t","y","o"],"range":["#00dd00","#f0201a","#f0201a","#bfbf00","#ff8000"]}}}},
{"data":{"name":"markers"},"transform":[{"filter":"datum.panel === 'd'"}],"mark":{"type":"point","shape":"circle","filled":true,"opacity":1,"fill":"#a3574a","stroke":"#7d3a55","strokeWidth":1.2,"size":200}}
]},
{"title":{"text":"SOM: Hexagonal Topology","anchor":"start","frame":"group","fontSize":11,"font":"Liberation Sans","fontWeight":"bold","color":"#666666","offset":4},"width":994,"height":998,
"encoding":{"x":{"field":"x","type":"quantitative","scale":{"domain":[-1.374,17.87],"nice":false,"zero":false},"axis":{"title":"(e)","values":[-1,0,1,2,3,4,5,6,7,8,9,10,11,12,13,14,15,16,17],"labelExpr":"datum.value % 5 === 0 ? datum.label : ''"}},"y":{"field":"y","type":"quantitative","scale":{"domain":[-1.17,18.15],"nice":false,"zero":false},"axis":{"title":null,"values":[-1,0,1,2,3,4,5,6,7,8,9,10,11,12,13,14,15,16,17,18],"labelExpr":"datum.value % 5 === 0 ? datum.label : ''"}}},
"layer":[
{"data":{"name":"cells"},"mark":{"type":"point","shape":"M0,-1L0.842,-0.5L0.842,0.5L0,1L-0.842,0.5L-0.842,-0.5Z","filled":true,"opacity":1,"stroke":"#666666","strokeWidth":3.5,"size":3249},"encoding":{"fill":{"field":"c","type":"nominal","legend":null,"scale":{"domain":["gn","br","pk","mg","gy","pu","or","rd","ol"],"range":["#00a000","#9c5846","#ff73c3","#ff0096","#808080","#a566c2","#ff8000","#ff2318","#bfbf00"]}}}},
{"data":{"name":"lines"},"transform":[{"filter":"datum.c !== 't'"}],"mark":{"type":"line","color":"#000000"},"encoding":{"detail":{"field":"p"},"order":{"field":"o","type":"quantitative"},"strokeWidth":{"field":"c","type":"nominal","legend":null,"scale":{"domain":["k","g","r","y","o"],"range":[9,7.5,7,8,5]}}}},
{"data":{"name":"lines"},"transform":[{"filter":"datum.c !== 'k'"}],"mark":{"type":"line","strokeWidth":3},"encoding":{"detail":{"field":"p"},"order":{"field":"o","type":"quantitative"},"stroke":{"field":"c","type":"nominal","legend":null,"scale":{"domain":["g","r","t","y","o"],"range":["#00dd00","#f0201a","#f0201a","#bfbf00","#ff8000"]}}}},
{"data":{"name":"markers"},"transform":[{"filter":"datum.panel === 'e'"}],"mark":{"type":"point","shape":"M-1,-0.14H-0.14V-1H0.14V-0.14H1V0.14H0.14V1H-0.14V0.14H-1Z","filled":true,"opacity":1,"fill":"#c2559b","stroke":"#6b3a60","strokeWidth":1,"size":361}}
]},
{"title":{"text":"SOM: Hexagonal Topology","anchor":"start","frame":"group","fontSize":11,"font":"Liberation Sans","fontWeight":"bold","color":"#666666","offset":4},"width":994,"height":998,
"encoding":{"x":{"field":"x","type":"quantitative","scale":{"domain":[-1.374,17.87],"nice":false,"zero":false},"axis":{"title":"(f)","values":[-1,0,1,2,3,4,5,6,7,8,9,10,11,12,13,14,15,16,17],"labelExpr":"datum.value % 5 === 0 ? datum.label : ''"}},"y":{"field":"y","type":"quantitative","scale":{"domain":[-1.17,18.15],"nice":false,"zero":false},"axis":{"title":null,"values":[-1,0,1,2,3,4,5,6,7,8,9,10,11,12,13,14,15,16,17,18],"labelExpr":"datum.value % 5 === 0 ? datum.label : ''"}}},
"layer":[
{"data":{"name":"cells"},"mark":{"type":"point","shape":"M0,-1L0.842,-0.5L0.842,0.5L0,1L-0.842,0.5L-0.842,-0.5Z","filled":true,"opacity":1,"stroke":"#666666","strokeWidth":3.5,"size":3249},"encoding":{"fill":{"field":"c","type":"nominal","legend":null,"scale":{"domain":["gn","br","pk","mg","gy","pu","or","rd","ol"],"range":["#00a000","#9c5846","#ff73c3","#ff0096","#808080","#a566c2","#ff8000","#ff2318","#bfbf00"]}}}},
{"data":{"name":"lines"},"transform":[{"filter":"datum.c !== 't'"}],"mark":{"type":"line","color":"#000000"},"encoding":{"detail":{"field":"p"},"order":{"field":"o","type":"quantitative"},"strokeWidth":{"field":"c","type":"nominal","legend":null,"scale":{"domain":["k","g","r","y","o"],"range":[9,7.5,7,8,5]}}}},
{"data":{"name":"lines"},"transform":[{"filter":"datum.c !== 'k'"}],"mark":{"type":"line","strokeWidth":3},"encoding":{"detail":{"field":"p"},"order":{"field":"o","type":"quantitative"},"stroke":{"field":"c","type":"nominal","legend":null,"scale":{"domain":["g","r","t","y","o"],"range":["#00dd00","#f0201a","#f0201a","#bfbf00","#ff8000"]}}}},
{"data":{"name":"markers"},"transform":[{"filter":"datum.panel === 'f'"}],"mark":{"type":"point","shape":"M-1,-0.25H1V0.25H-1Z","filled":true,"opacity":1,"fill":"#8a8a8a","stroke":"#5e5e5e","strokeWidth":1,"size":400}}
]}
]}
